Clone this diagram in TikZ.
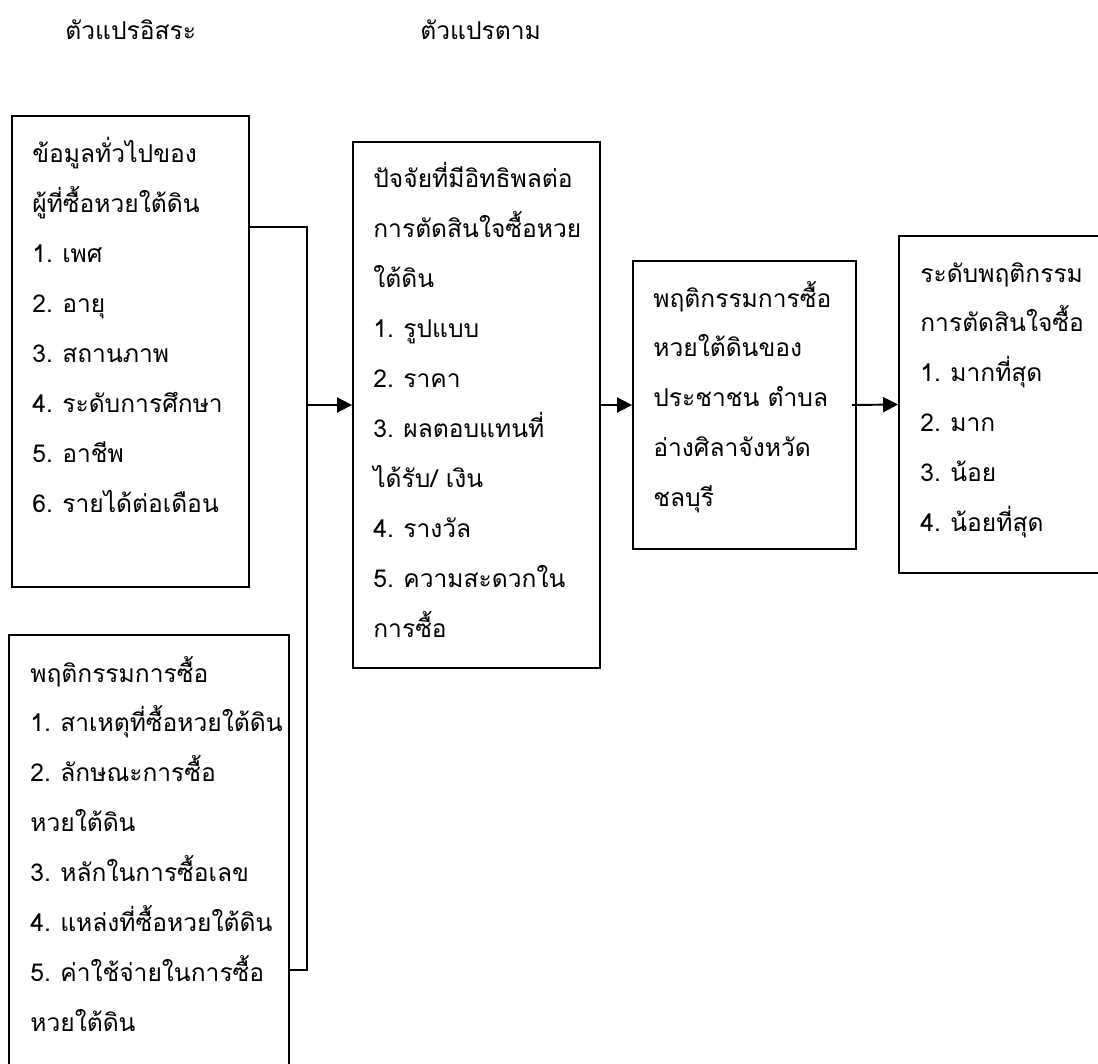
\documentclass[tikz,border=0pt]{standalone}
\usepackage{fontspec}
\newfontfamily\thaifont[Script=Thai]{Loma}
\usetikzlibrary{arrows.meta,calc}
\newcommand{\nb}[1]{\makebox[0.6cm][l]{#1}}

\begin{document}
\begin{tikzpicture} [
       x=0.02cm, y=-0.02cm,
       frame/.style={draw, line width=1.1pt, rectangle, inner sep=0pt},
       texte/.style={text width=6cm, align=left, inner sep=0pt, anchor=base west,
               font=\thaifont\fontsize{14pt}{1cm}\selectfont},
       line/.style={draw, line width=1.1pt},
       arrow/.style={line, -{Triangle[length=0.3cm, width=0.3cm]}},
       ]
       \useasboundingbox (0,0) rectangle (1098,1064);
       \clip (0,0) rectangle (1098,1064);
       \node (indeplabel) [texte] at (65,40) {ตัวแปรอิสระ};
       \node (deplabel) [texte] at (420,40) {ตัวแปรตาม};
       \node (indep) [frame, minimum width=4.74cm, minimum height=9.42cm] at (130.5,351.5) {};
       \node (behav) [frame, minimum width=5.6cm, minimum height=8.9cm] at (149,857.5) {};
       \node (factor) [frame, minimum width=4.94cm, minimum height=10.52cm] at (476.5,405) {};
       \node (dep) [frame, minimum width=4.46cm, minimum height=5.76cm] at (744.5,405) {};
       \node (level) [frame, minimum width=4.22cm, minimum height=6.74cm] at (1004.5,404.5) {};
       \node (indeptext) [texte] at (32,163) {ข้อมูลทั่วไปของ\\ผู้ที่ซื้อหวยใต้ดิน\\\nb{1.}เพศ\\\nb{2.}อายุ\\\nb{3.}สถานภาพ\\\nb{4.}ระดับการศึกษา\\\nb{5.}อาชีพ\\\nb{6.}รายได้ต่อเดือน};
       \node (behavtext) [texte] at (30,682) {พฤติกรรมการซื้อ\\\nb{1.}สาเหตุที่ซื้อหวยใต้ดิน\\\nb{2.}ลักษณะการซื้อ\\หวยใต้ดิน\\\nb{3.}หลักในการซื้อเลข\\\nb{4.}แหล่งที่ซื้อหวยใต้ดิน\\\nb{5.}ค่าใช้จ่ายในการซื้อ\\หวยใต้ดิน};
       \node (factortext) [texte] at (373,188) {ปัจจัยที่มีอิทธิพลต่อ\\การตัดสินใจซื้อหวย\\ใต้ดิน\\\nb{1.}รูปแบบ\\\nb{2.}ราคา\\\nb{3.}ผลตอบแทนที่\\ได้รับ/ เงิน\\\nb{4.}รางวัล\\\nb{5.}ความสะดวกใน\\การซื้อ};
       \node (deptext) [texte] at (653,307) {พฤติกรรมการซื้อ\\หวยใต้ดินของ\\ประชาชน ตำบล\\อ่างศิลาจังหวัด\\ชลบุรี};
       \node (leveltext) [texte] at (920,282) {ระดับพฤติกรรม\\การตัดสินใจซื้อ\\\nb{1.}มากที่สุด\\\nb{2.}มาก\\\nb{3.}น้อย\\\nb{4.}น้อยที่สุด};
       \coordinate (jtop) at (307,227);
       \coordinate (jbot) at (307,970);
       \path [line] (indep.east |- jtop) -- (jtop) -- (jbot) -- (behav.east |- jbot);
       \path [arrow] (jtop |- factor.west) -- (factor.west);
       \path [arrow] (factor.east) -- (dep.west);
       \path [arrow] ([xshift=-0.1cm]dep.east) -- (level.west);
\end{tikzpicture}
\end{document}
